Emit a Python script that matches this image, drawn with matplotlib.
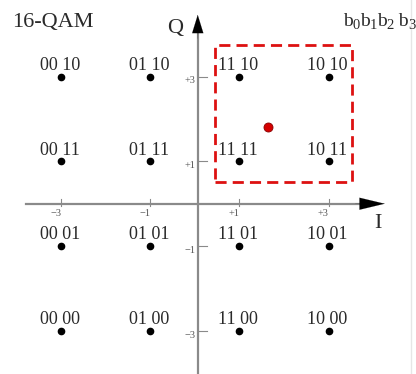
import numpy as np
import matplotlib.pyplot as plt
from matplotlib.patches import Rectangle

plt.rcParams['font.family'] = ['Liberation Serif', 'DejaVu Serif']

# constellation points (I, Q) and their bit labels
i_vals = [-3, -1, 1, 3]
q_vals = [3, 1, -1, -3]
i_bits = ['00', '01', '11', '10']
q_bits = ['10', '11', '01', '00']
tick_vals = [-3, -1, 1, 3]
tick_text = ['\u22123', '\u22121', '+1', '+3']

# received sample and decision region
rx_point = (1.63, 1.82)
region = (0.45, 0.515, 3.07, 3.235)   # x0, y0, width, height

fig = plt.figure(figsize=(4.16, 3.74), dpi=100)
ax = fig.add_axes([0, 0, 1, 1])
ax.set_xlim(-4.37, 4.96)
ax.set_ylim(-4.02, 4.81)
ax.axis('off')

axcol = '#8a8a8a'
txtcol = '#2a2a2a'
x_ax = 0.065   # the Q axis sits a hair right of the constellation centre
ax.plot([-3.78, 4.0], [0, 0], color=axcol, lw=1.6, zorder=1)
ax.plot([x_ax, x_ax], [-4.05, 4.1], color=axcol, lw=1.6, zorder=1)
ax.annotate('', xy=(4.26, 0), xytext=(3.6, 0),
            arrowprops=dict(arrowstyle='-|>,head_length=1.8,head_width=0.43',
                            color='black', lw=0.1, shrinkA=0, shrinkB=0))
ax.annotate('', xy=(x_ax, 4.46), xytext=(x_ax, 3.9),
            arrowprops=dict(arrowstyle='-|>,head_length=1.3,head_width=0.4',
                            color='black', lw=0.1, shrinkA=0, shrinkB=0))

# ticks
for v, t in zip(tick_vals, tick_text):
    ax.plot([v, v], [-0.05, 0.12], color=axcol, lw=0.8)
    ax.text(v - 0.12, -0.12, t, fontsize=7.5, color='#555555', ha='center', va='top')
for v, t in zip(tick_vals, tick_text):
    ax.plot([x_ax, x_ax + 0.2], [v, v], color=axcol, lw=0.8)
    ax.text(x_ax - 0.06, v - 0.1, t, fontsize=7.5, color='#555555', ha='right', va='center')

# constellation
for q, qb in zip(q_vals, q_bits):
    for i, ib in zip(i_vals, i_bits):
        ax.plot(i, q, 'o', color='black', ms=4.5)
        ax.text(i - 0.03, q + 0.16, ib + ' ' + qb, fontsize=13, color=txtcol,
                ha='center', va='baseline')

ax.add_patch(Rectangle(region[:2], region[2], region[3], fill=False,
                       edgecolor='#dd1111', lw=2, linestyle=(0, (4, 2.2))))
ax.plot(*rx_point, 'o', color='#d40000', mec='#880000', mew=0.6, ms=6.5)

ax.text(-4.1, 4.17, '16-QAM', fontsize=16, ha='left', va='baseline', color=txtcol)
ax.text(-0.26, 4.03, 'Q', fontsize=16, ha='right', va='baseline', color=txtcol)
ax.text(4.11, -0.57, 'I', fontsize=16, ha='center', va='baseline', color=txtcol)

# bit order label b0b1b2 b3, built from base letters and lowered digits
pieces = [('b', 0), ('0', 1), ('b', 0), ('1', 1), ('b', 0), ('2', 1), (' b', 0), ('3', 1)]
fig.canvas.draw()
renderer = fig.canvas.get_renderer()
x_px, y_px = ax.transData.transform((3.32, 4.2))
for s, sub in pieces:
    fs = 10.5 if sub else 14
    dy = -3.5 if sub else 0
    tt = fig.text(x_px / fig.dpi / 4.16, (y_px + dy) / fig.dpi / 3.74, s,
                  fontsize=fs, color=txtcol, ha='left', va='baseline')
    x_px += tt.get_window_extent(renderer).width

# faint border at the right edge of the screenshot
fig.add_artist(plt.Line2D([0.988, 0.988], [0, 1], color='#e6e6e6', lw=1))

fig.savefig('out.png', dpi=100)
